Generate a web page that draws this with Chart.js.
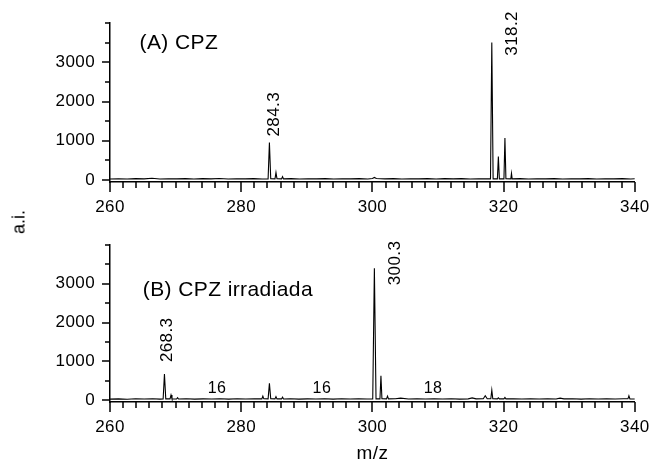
<!DOCTYPE html>
<html>
<head>
<meta charset="utf-8">
<script src="https://cdn.jsdelivr.net/npm/chart.js@4.4.1/dist/chart.umd.min.js"></script>
<style>
  html, body { margin: 0; padding: 0; background: #fff; }
  #wrap { position: relative; width: 654px; height: 463px; overflow: hidden; }
  #topChart { position: absolute; left: 0; top: 0; }
  #botChart { position: absolute; left: 0; top: 225px; }
  #yTitle {
    position: absolute; left: 19px; top: 222px;
    transform: translate(-50%, -50%) rotate(-90deg);
    font: 18px "Liberation Sans", Arial, sans-serif; color: #000; white-space: nowrap;
  }
</style>
</head>
<body>
<div id="wrap">
  <canvas id="topChart" width="654" height="225"></canvas>
  <canvas id="botChart" width="654" height="238"></canvas>
  <div id="yTitle">a.i.</div>
</div>
<script>
// Spectrum (A): CPZ — m/z and intensity (a.i.)
const mzA = [
  260.0, 261.3, 262.6, 263.9, 265.2, 266.4, 267.6, 268.9, 270.2, 271.5,
  272.8, 274.1, 275.4, 276.7, 278.0, 279.3, 280.6, 281.9, 283.2, 284.1,
  284.3, 284.5, 285.15, 285.3, 285.45, 286.15, 286.3, 286.45, 287.6, 288.9,
  290.2, 291.5, 292.8, 294.1, 295.4, 296.7, 298.0, 299.3, 300.0, 300.3,
  300.6, 301.9, 303.2, 304.5, 305.8, 307.1, 308.4, 309.7, 311.0, 312.3,
  313.6, 314.9, 316.2, 317.5, 318.0, 318.2, 318.4, 319.05, 319.2, 319.35,
  320.05, 320.2, 320.35, 321.1, 321.2, 321.3, 322.5, 323.8, 325.1, 326.4,
  327.7, 329.0, 330.3, 331.6, 332.9, 334.2, 335.5, 336.8, 338.1, 339.4, 340.0
];
const intA = [
  28, 34, 26, 36, 30, 45, 27, 33, 29, 37,
  26, 35, 30, 38, 28, 34, 30, 36, 27, 30,
  955, 32, 30, 190, 34, 30, 85, 30, 35, 28,
  33, 29, 36, 27, 34, 30, 35, 28, 40, 65,
  38, 30, 36, 27, 34, 29, 37, 28, 35, 30,
  36, 27, 33, 30, 30, 3500, 30, 30, 597, 30,
  30, 1068, 32, 30, 170, 30, 36, 28, 34, 30,
  36, 27, 34, 30, 35, 28, 33, 30, 36, 28, 32
];

// Spectrum (B): irradiated CPZ — m/z and intensity (a.i.)
const mzB = [
  260.0, 261.3, 262.6, 263.9, 265.2, 266.5, 267.6, 268.1, 268.3, 268.5,
  269.15, 269.3, 269.45, 270.15, 270.3, 270.45, 271.6, 272.9, 274.2, 275.5,
  276.8, 278.1, 279.4, 280.7, 282.0, 283.15, 283.3, 283.45, 284.1, 284.3,
  284.5, 285.15, 285.3, 285.45, 286.15, 286.3, 286.45, 287.5, 288.8, 290.1,
  291.4, 292.7, 294.0, 295.3, 296.6, 297.9, 299.2, 300.05, 300.3, 300.55,
  301.15, 301.3, 301.45, 302.15, 302.3, 302.45, 303.5, 304.3, 305.5, 306.8,
  308.1, 309.4, 310.7, 312.0, 313.3, 314.6, 315.2, 315.8, 316.9, 317.2,
  317.5, 318.05, 318.2, 318.35, 319.05, 319.2, 319.35, 320.05, 320.2, 320.35,
  321.5, 322.8, 324.1, 325.4, 326.7, 328.0, 328.6, 329.2, 330.5, 331.8,
  333.1, 334.4, 335.7, 337.0, 338.3, 338.95, 339.1, 339.25, 340.0
];
const intB = [
  25, 30, 22, 32, 26, 33, 25, 28, 670, 30,
  30, 130, 30, 28, 60, 28, 33, 25, 31, 27,
  34, 25, 32, 27, 34, 30, 100, 32, 30, 430,
  32, 30, 90, 30, 30, 75, 28, 33, 25, 31,
  27, 34, 25, 32, 27, 33, 26, 28, 3400, 30,
  30, 627, 32, 30, 100, 30, 34, 50, 28, 33,
  26, 32, 27, 34, 25, 31, 55, 30, 35, 110,
  32, 32, 258, 33, 30, 60, 30, 30, 65, 30,
  33, 26, 32, 27, 34, 26, 50, 30, 33, 25,
  32, 27, 34, 26, 32, 32, 110, 30, 28
];

// Labelled peaks (m/z) in each spectrum
const peaksA = [284.3, 318.2];
const peaksB = [268.3, 300.3];
// Successive loss series in (B) and the mass differences written between them
const seriesB = [268.3, 284.3, 300.3, 318.2];
const diffsB = ['16', '16', '18'];

// Axis ranges and labelled tick values
const xRange = [260, 340];
const yRange = [-50, 4000];
const xTickLabels = [260, 280, 300, 320, 340];
const yTickLabels = [0, 1000, 2000, 3000];
const xMinorStep = 2;
const yMinorStep = 500;

const FONT = '"Liberation Sans", Arial, sans-serif';

function points(mz, inten) {
  return mz.map((m, i) => ({ x: m, y: inten[i] }));
}
function heightAt(mz, inten, m) {
  return inten[mz.indexOf(m)];
}
function tickValues(from, to, step) {
  const out = [];
  for (let v = from; v <= to + 1e-9; v += step) out.push(v);
  return out;
}

// Slightly open letter spacing for all chart text
const textSpacing = {
  id: 'textSpacing',
  beforeDraw(chart) { chart.ctx.letterSpacing = '0.4px'; }
};

// Tick marks: long at labelled values, short in between
const axisTicks = {
  id: 'axisTicks',
  afterDraw(chart) {
    const { ctx, chartArea: a, scales: { x, y } } = chart;
    ctx.save();
    ctx.strokeStyle = '#000';
    ctx.lineWidth = 1.5;
    ctx.beginPath();
    x.ticks.forEach(t => {
      const px = Math.round(x.getPixelForValue(t.value));
      const len = xTickLabels.includes(t.value) ? 10 : 6;
      ctx.moveTo(px, a.bottom);
      ctx.lineTo(px, a.bottom + len);
    });
    y.ticks.forEach(t => {
      const py = Math.round(y.getPixelForValue(t.value));
      const len = yTickLabels.includes(t.value) ? 8 : 5;
      ctx.moveTo(a.left, py);
      ctx.lineTo(a.left - len, py);
    });
    ctx.stroke();
    ctx.restore();
  }
};

// Text placed in data coordinates, with optional pixel nudges and rotation
const spectrumText = {
  id: 'spectrumText',
  afterDatasetsDraw(chart, args, opts) {
    const { ctx, scales: { x, y } } = chart;
    ctx.save();
    ctx.fillStyle = '#000';
    (opts.items || []).forEach(it => {
      ctx.font = it.size + 'px ' + FONT;
      const px = x.getPixelForValue(it.x) + (it.dx || 0);
      const py = y.getPixelForValue(it.y) + (it.dy || 0);
      ctx.save();
      ctx.translate(px, py);
      if (it.rotate) ctx.rotate(-Math.PI / 2);
      ctx.textAlign = it.align || 'left';
      ctx.textBaseline = it.baseline || 'alphabetic';
      ctx.fillText(it.text, 0, 0);
      ctx.restore();
    });
    ctx.restore();
  }
};

function makeOptions(cfg) {
  return {
    responsive: false,
    animation: false,
    devicePixelRatio: 1,
    events: [],
    layout: { padding: { top: cfg.padTop, right: 15, bottom: 0, left: 0 } },
    plugins: {
      legend: { display: false },
      tooltip: { enabled: false },
      spectrumText: { items: cfg.items }
    },
    scales: {
      x: {
        type: 'linear',
        min: xRange[0],
        max: xRange[1],
        afterBuildTicks: s => { s.ticks = tickValues(xRange[0], xRange[1], xMinorStep).map(v => ({ value: v })); },
        afterFit: s => { s.height = cfg.xHeight; },
        border: { display: true, color: '#000', width: 1.5 },
        grid: { display: true, drawOnChartArea: false, drawTicks: true, tickLength: 10, tickColor: 'rgba(0,0,0,0)' },
        ticks: {
          autoSkip: false, maxRotation: 0, padding: 5,
          color: '#000', font: { family: FONT, size: 17 },
          callback: v => (xTickLabels.includes(v) ? String(v) : '')
        },
        title: cfg.xTitle
          ? { display: true, text: cfg.xTitle, color: '#000', font: { family: FONT, size: 19, lineHeight: 1 }, padding: { top: 0, bottom: 0 } }
          : { display: false }
      },
      y: {
        type: 'linear',
        min: yRange[0],
        max: yRange[1],
        afterBuildTicks: s => { s.ticks = tickValues(0, yRange[1], yMinorStep).map(v => ({ value: v })); },
        afterFit: s => { s.width = 110; },
        border: { display: true, color: '#000', width: 1.5 },
        grid: { display: true, drawOnChartArea: false, drawTicks: true, tickLength: 8, tickColor: 'rgba(0,0,0,0)' },
        ticks: {
          autoSkip: false, padding: 7,
          color: '#000', font: { family: FONT, size: 17 },
          callback: v => (yTickLabels.includes(v) ? String(v) : '')
        }
      }
    }
  };
}

function dataset(mz, inten) {
  return {
    data: points(mz, inten),
    borderColor: '#000',
    borderWidth: 1.1,
    pointRadius: 0,
    tension: 0,
    fill: false
  };
}

// Labels for spectrum (A)
const itemsA = [
  { text: '(A) CPZ', x: 264.5, y: 3330, size: 21 },
  { text: peaksA[0].toFixed(1), x: peaksA[0], y: heightAt(mzA, intA, peaksA[0]), dx: 4.5, dy: -6, rotate: true, baseline: 'middle', size: 17 },
  { text: peaksA[1].toFixed(1), x: peaksA[1], y: heightAt(mzA, intA, peaksA[1]), dx: 20.5, dy: 13, rotate: true, baseline: 'middle', size: 17 }
];

// Labels for spectrum (B)
const itemsB = [
  { text: '(B) CPZ irradiada', x: 265, y: 2690, size: 21 },
  { text: peaksB[0].toFixed(1), x: peaksB[0], y: heightAt(mzB, intB, peaksB[0]), dx: 3, dy: -12, rotate: true, baseline: 'middle', size: 17 },
  { text: peaksB[1].toFixed(1), x: peaksB[1], y: heightAt(mzB, intB, peaksB[1]), dx: 20.5, dy: 17, rotate: true, baseline: 'middle', size: 17 }
];
diffsB.forEach((d, i) => {
  itemsB.push({ text: d, x: (seriesB[i] + seriesB[i + 1]) / 2, y: 180, align: 'center', size: 16 });
});

new Chart(document.getElementById('topChart'), {
  type: 'line',
  data: { datasets: [dataset(mzA, intA)] },
  options: makeOptions({ padTop: 23, xHeight: 43, items: itemsA }),
  plugins: [textSpacing, axisTicks, spectrumText]
});

new Chart(document.getElementById('botChart'), {
  type: 'line',
  data: { datasets: [dataset(mzB, intB)] },
  options: makeOptions({ padTop: 20, xHeight: 61, items: itemsB, xTitle: 'm/z' }),
  plugins: [textSpacing, axisTicks, spectrumText]
});
</script>
</body>
</html>
